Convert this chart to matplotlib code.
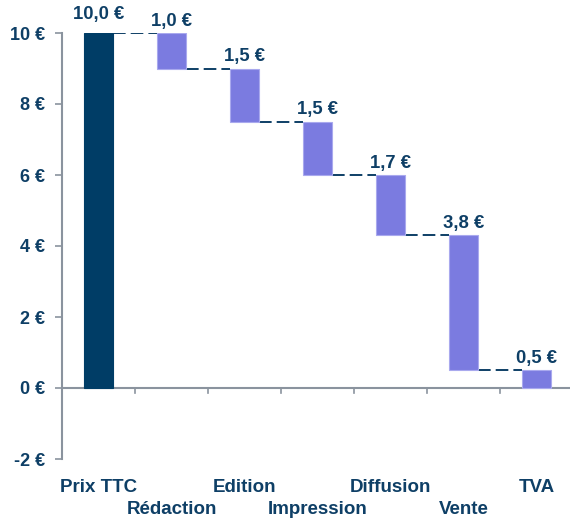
import matplotlib
matplotlib.use("Agg")
import matplotlib.pyplot as plt

categories = ["Prix TTC", "Rédaction", "Edition", "Impression", "Diffusion", "Vente", "TVA"]
values = [10.0, 1.0, 1.5, 1.5, 1.7, 3.8, 0.5]
value_labels = ["10,0 €", "1,0 €", "1,5 €", "1,5 €", "1,7 €", "3,8 €", "0,5 €"]
yticks = [-2, 0, 2, 4, 6, 8, 10]
ytick_labels = ["-2 €", "0 €", "2 €", "4 €", "6 €", "8 €", "10 €"]

dark = "#003d66"
purple = "#7b7be0"
txt = "#0e3f66"
axc = "#8a939e"

plt.rcParams['font.family'] = ['Liberation Sans', 'DejaVu Sans']

fig = plt.figure(figsize=(5.70, 5.21), dpi=100)
ax = fig.add_axes([62/570, 1-459/521, 1-62/570, (459-33)/521])

# compute waterfall
bottoms = []
heights = []
running = 0
for i, v in enumerate(values):
    if i == 0:
        bottoms.append(0)
        heights.append(v)
        running = v
    else:
        bottoms.append(running - v)
        heights.append(v)
        running = running - v

w = 0.41
x = list(range(len(categories)))
for i in x:
    col = dark if i == 0 else purple
    ax.bar(i, heights[i], bottom=bottoms[i], width=w, color=col,
           edgecolor=col if i == 0 else "#a9a9ee", linewidth=0.8, zorder=3)
    off = 7 if i == 0 else 2.5
    ax.annotate(value_labels[i], (i, bottoms[i] + heights[i]), xytext=(0, off),
                textcoords="offset points", ha="center", va="bottom",
                fontsize=13.3, fontweight="bold", color=txt)

# connectors
for i in range(len(categories) - 1):
    level = bottoms[i] if i > 0 else heights[0]
    ax.plot([i + w/2, i + 1 - w/2], [level, level], color=txt, lw=1.4,
            dashes=(6.5, 2.6), zorder=2)

ax.set_ylim(-2, 10)
ax.set_xlim(-0.5, 6.5 - 3/73)

for s in ["top", "right", "bottom"]:
    ax.spines[s].set_visible(False)
ax.spines["left"].set_color(axc)
ax.spines["left"].set_linewidth(1.5)
ax.axhline(0, color=axc, lw=1.5, zorder=1)

ax.set_yticks(yticks)
ax.set_yticklabels(ytick_labels)
ax.tick_params(axis="y", direction="out", length=5, width=1.2, color=axc,
               labelsize=13, labelcolor=txt, pad=7)
for lab in ax.get_yticklabels():
    lab.set_fontweight("bold")

ax.set_xticks([])
# boundary ticks on zero line
for b in [0.5, 1.5, 2.5, 3.5, 4.5, 5.5]:
    ax.plot([b, b], [0, -0.14], color=axc, lw=1.2, clip_on=False, zorder=1)

# category labels staggered
fig.canvas.draw()
for i, c in enumerate(categories):
    ypix = 488 if i % 2 == 0 else 510
    xd = ax.transData.transform((i, 0))[0]
    fig.text(xd/570, 1 - ypix/521, c, ha="center", va="center", fontsize=13.5,
             fontweight="bold", color=txt)

fig.savefig("out.png", dpi=100)
